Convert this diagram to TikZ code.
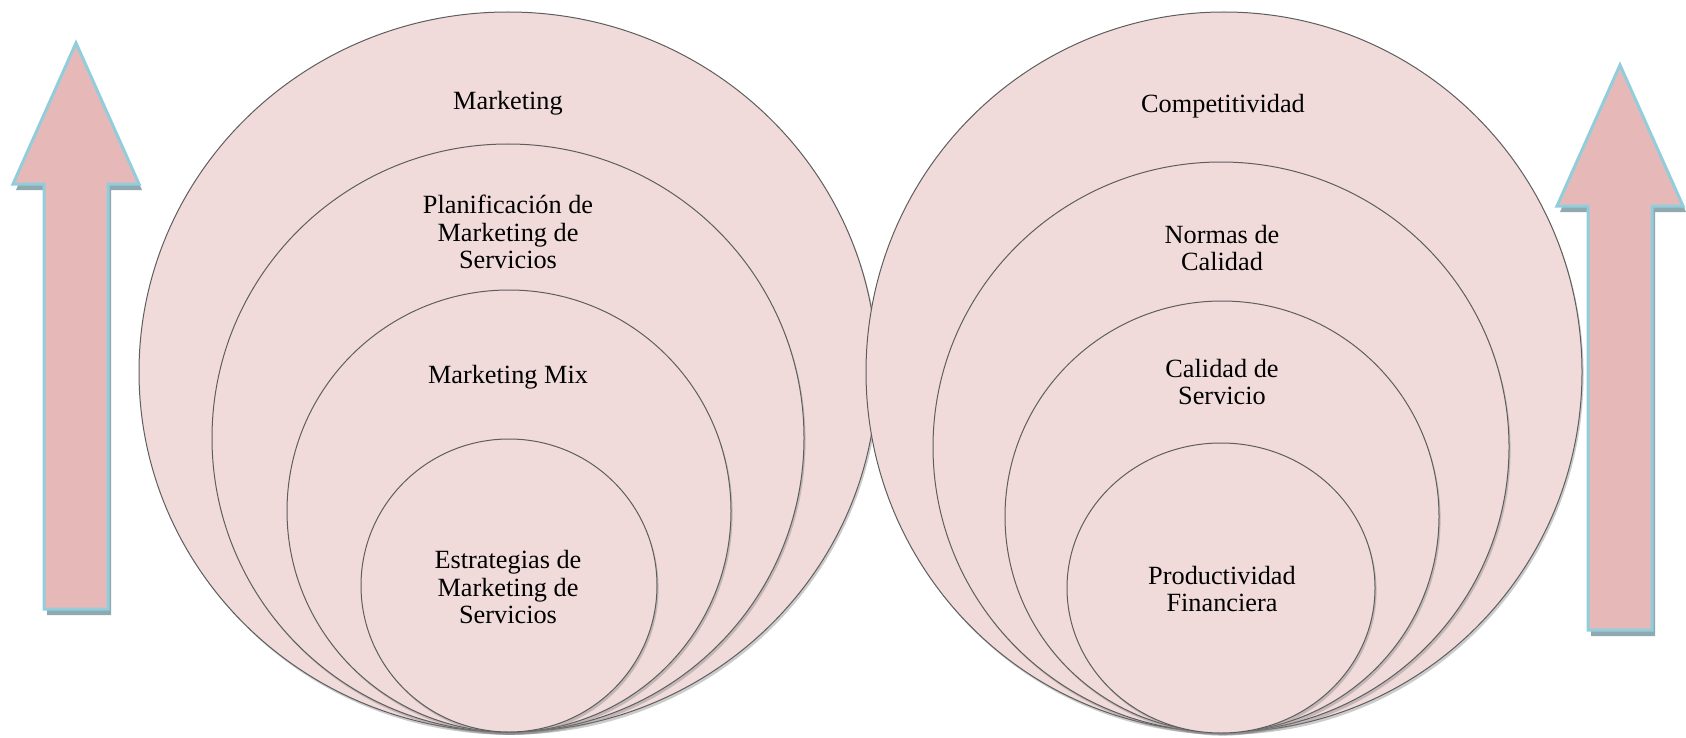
\documentclass[tikz,border=0pt]{standalone}
\usepackage{fontspec}
\setmainfont{Liberation Serif}
\usetikzlibrary{shapes.geometric,shadows}
\definecolor{rosa}{HTML}{F0DBDA}
\definecolor{rosaflecha}{HTML}{E6B9B8}
\definecolor{celeste}{HTML}{92CDDC}
\definecolor{sombra}{HTML}{8EA9AF}
\definecolor{borde}{HTML}{5E5E5E}
\tikzset{
	aro/.style={ellipse,draw=borde,line width=.5pt,fill=rosa,inner sep=0pt,
		drop shadow={shadow xshift=.8pt,shadow yshift=-1.4pt,opacity=.4}},
	texto/.style={align=center,inner sep=0pt,font=\fontsize{13.15}{13.6}\selectfont},
	flecha/.style={fill=rosaflecha,draw=celeste,line width=1.5pt,line join=miter},
	sombraflecha/.style={fill=sombra}
}
\begin{document}
\begin{tikzpicture}[x=.5pt,y=-.5pt]
	\useasboundingbox (0,0) rectangle (1686,738);
	\def\h{63} % media anchura de la punta
	\def\s{32} % media anchura del cuerpo
	% flechas: x, punta, base de la punta, pie
	\foreach \x/\yt/\yb/\yf in {76/43/184/609,1620/65/206/630}{
		\fill[sombraflecha,shift={(3,6)}]
		(\x-\s,\yf)--(\x-\s,\yb)--(\x-\h,\yb)--(\x,\yt)--(\x+\h,\yb)--(\x+\s,\yb)--(\x+\s,\yf)--cycle;
		\draw[flecha]
		(\x-\s,\yf)--(\x-\s,\yb)--(\x-\h,\yb)--(\x,\yt)--(\x+\h,\yb)--(\x+\s,\yb)--(\x+\s,\yf)--cycle;
	}
	% aros: nombre, centro, radios
	\foreach \n/\cx/\cy/\rx/\ry in {
		L1/508/372/369/360,L2/508/438/296/294,L3/509/511/222/221,L4/509/585.5/148/146.5,
		R1/1224/372/358/360,R2/1221/447/288/285,R3/1222/516.5/217/215.5,R4/1221/588/154/145}
	\node[aro,minimum width=\rx pt,minimum height=\ry pt] (\n) at (\cx,\cy) {};
	% textos
	\foreach \n/\cx/\cy/\t in {
		L1/508/103/{Marketing},
		L2/508/232/{Planificación de\\Marketing de\\Servicios},
		L3/508/377/{Marketing Mix},
		L4/508/587/{Estrategias de\\Marketing de\\Servicios},
		R1/1223/106/{Competitividad},
		R2/1222/248/{Normas de\\Calidad},
		R3/1222/382/{Calidad de\\Servicio},
		R4/1222/589/{Productividad\\Financiera}}
	\node[texto] (t\n) at (\cx,\cy) {\t};
\end{tikzpicture}
\end{document}
